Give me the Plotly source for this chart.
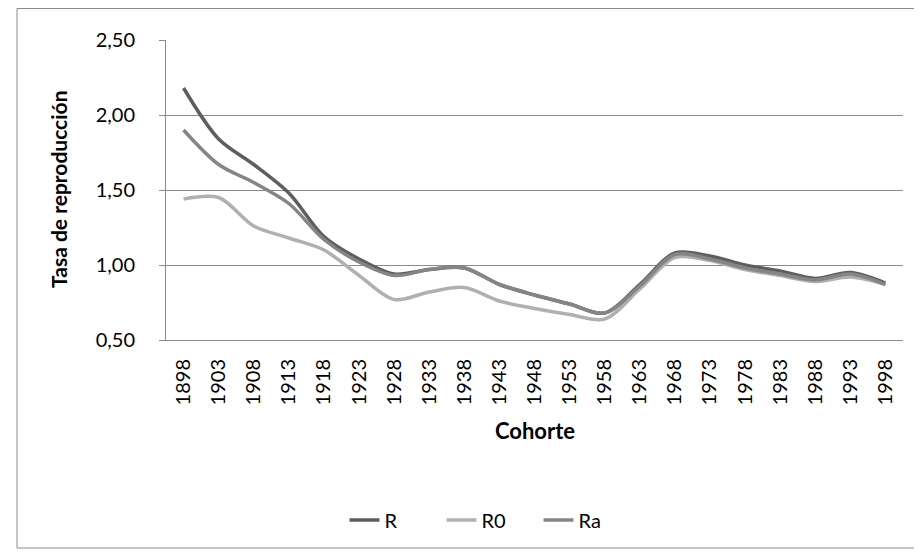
import plotly.graph_objects as go

# cohorts and reproduction rates
cohortes = ['1898', '1903', '1908', '1913', '1918', '1923', '1928', '1933', '1938', '1943', '1948',
            '1953', '1958', '1963', '1968', '1973', '1978', '1983', '1988', '1993', '1998']

r_vals  = [2.18, 1.84, 1.67, 1.48, 1.19, 1.04, 0.94, 0.97, 0.98, 0.87, 0.80,
           0.74, 0.68, 0.87, 1.08, 1.06, 1.00, 0.96, 0.91, 0.95, 0.88]
r0_vals = [1.44, 1.45, 1.26, 1.18, 1.10, 0.93, 0.77, 0.82, 0.85, 0.76, 0.71,
           0.67, 0.64, 0.84, 1.05, 1.03, 0.97, 0.93, 0.89, 0.92, 0.87]
ra_vals = [1.90, 1.67, 1.55, 1.41, 1.17, 1.02, 0.93, 0.97, 0.98, 0.87, 0.80,
           0.74, 0.68, 0.86, 1.07, 1.04, 0.98, 0.94, 0.90, 0.94, 0.87]

series = [
    ('R',  r_vals,  '#5e5e5e'),
    ('R0', r0_vals, '#b0b0b0'),
    ('Ra', ra_vals, '#858585'),
]

FONT = 'Lato'
GRID = '#8a8a8a'

fig = go.Figure()
for name, vals, color in series:
    fig.add_trace(go.Scatter(
        x          = cohortes,
        y          = vals,
        name       = name,
        mode       = 'lines',
        line       = dict(color=color, width=3.5, shape='spline', smoothing=0.9),
    ))

# the page shifts the figure down by 8px, so vertical pixel positions are
# page positions minus OFFY
OFFX, OFFY = 0, 8
W, H = 914, 554 - OFFY
L, R, T, B = 158 - OFFX, 895 - OFFX, 40 - OFFY, 340 - OFFY
pw, ph = R - L, B - T


def px(x):
    return (x - OFFX - L) / pw


def py(y):
    return (B - (y - OFFY)) / ph


fig.update_layout(
    width         = W,
    height        = H,
    margin        = dict(l=L, r=W - R, t=T, b=H - B, pad=0),
    paper_bgcolor = 'white',
    plot_bgcolor  = 'white',
    separators    = ',.',
    font          = dict(family=FONT, size=20, color='black'),
    showlegend    = True,
    legend        = dict(
        orientation    = 'h',
        x              = px(482),
        xanchor        = 'center',
        y              = py(520),
        yanchor        = 'middle',
        font           = dict(family=FONT, size=20),
        itemwidth      = 30,
        entrywidth     = 52,
        entrywidthmode = 'pixels',
    ),
)

fig.update_xaxes(
    type               = 'category',
    range              = [-0.5, len(cohortes) - 0.5],
    tickangle          = -90,
    showgrid           = False,
    showline           = True,
    linecolor          = GRID,
    linewidth          = 1,
    ticks              = '',
    ticklabelstandoff  = 10,
    tickfont           = dict(family=FONT, size=20),
)

fig.update_yaxes(
    range              = [0.5, 2.5],
    dtick              = 0.5,
    tickformat         = '.2f',
    showgrid           = True,
    gridcolor          = GRID,
    gridwidth          = 1,
    showline           = True,
    linecolor          = GRID,
    linewidth          = 1,
    ticks              = 'outside',
    ticklen            = 6,
    tickcolor          = GRID,
    ticklabelstandoff  = 20,
    zeroline           = False,
    tickfont           = dict(family=FONT, size=20),
)

# axis titles
fig.add_annotation(
    text='<b>Tasa de reproducción</b>', xref='paper', yref='paper',
    x=px(50), y=py(190), xanchor='center', yanchor='middle',
    textangle=-90, showarrow=False,
    font=dict(family=FONT, size=21),
)
fig.add_annotation(
    text='<b>Cohorte</b>', xref='paper', yref='paper',
    x=px(527), y=py(430), xanchor='center', yanchor='middle',
    showarrow=False,
    font=dict(family=FONT, size=22),
)

# outer chart border
fig.add_shape(
    type='rect', xref='paper', yref='paper',
    x0=px(9), x1=px(912),
    y0=py(548), y1=py(8.5),
    line=dict(color='#8c8c8c', width=1),
)

fig.write_html("out.html")
